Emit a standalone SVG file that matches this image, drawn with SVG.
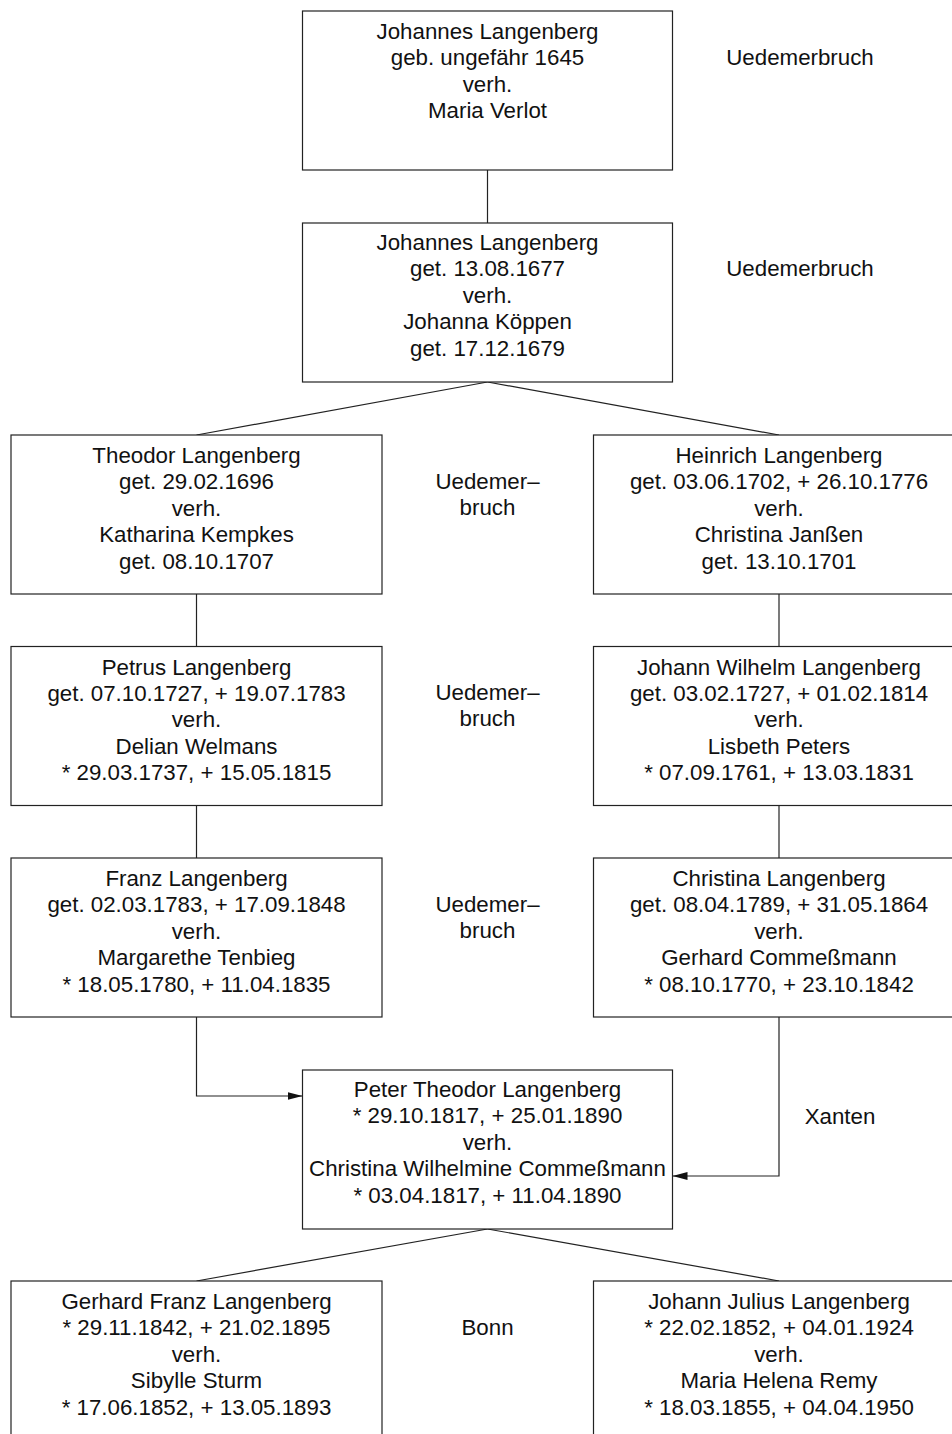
<svg xmlns="http://www.w3.org/2000/svg" width="952" height="1434" viewBox="0 0 952 1434">
<defs>
<style>
.box{fill:#fff;stroke:#222;stroke-width:1.2}
.t{font-family:"Liberation Sans",Arial,Helvetica,sans-serif;font-size:22.3px;fill:#111;text-anchor:middle}
.c{fill:none;stroke:#222;stroke-width:1.2}
</style>
<marker id="ah" markerUnits="userSpaceOnUse" markerWidth="16" markerHeight="10" refX="15" refY="4" orient="auto">
<path d="M0,0 L15,4 L0,8 Z" fill="#111"/>
</marker>
</defs>
<rect width="952" height="1434" fill="#fff"/>
<g id="connectors">
<line class="c" x1="487.5" y1="170" x2="487.5" y2="223"/>
<line class="c" x1="487.5" y1="382" x2="196.5" y2="435"/>
<line class="c" x1="487.5" y1="382" x2="779" y2="435"/>
<line class="c" x1="196.5" y1="594" x2="196.5" y2="646.5"/>
<line class="c" x1="779" y1="594" x2="779" y2="646.5"/>
<line class="c" x1="196.5" y1="805.5" x2="196.5" y2="858"/>
<line class="c" x1="779" y1="805.5" x2="779" y2="858"/>
<path class="c" d="M196.5,1017 L196.5,1096 L302.5,1096" marker-end="url(#ah)"/>
<path class="c" d="M779,1017 L779,1176 L672.5,1176" marker-end="url(#ah)"/>
<line class="c" x1="487.5" y1="1229" x2="196.5" y2="1281"/>
<line class="c" x1="487.5" y1="1229" x2="779" y2="1281"/>
</g>
<g id="n1">
<rect class="box" x="302.5" y="11" width="370" height="159"/>
<text class="t" x="487.5" y="39"><tspan x="487.5">Johannes Langenberg</tspan><tspan x="487.5" dy="26.4">geb. ungefähr 1645</tspan><tspan x="487.5" dy="26.4">verh.</tspan><tspan x="487.5" dy="26.4">Maria Verlot</tspan></text>
</g>
<g id="n2">
<rect class="box" x="302.5" y="223" width="370" height="159"/>
<text class="t" x="487.5" y="250"><tspan x="487.5">Johannes Langenberg</tspan><tspan x="487.5" dy="26.4">get. 13.08.1677</tspan><tspan x="487.5" dy="26.4">verh.</tspan><tspan x="487.5" dy="26.4">Johanna Köppen</tspan><tspan x="487.5" dy="26.4">get. 17.12.1679</tspan></text>
</g>
<g id="n3">
<rect class="box" x="11" y="435" width="371" height="159"/>
<text class="t" x="196.5" y="463"><tspan x="196.5">Theodor Langenberg</tspan><tspan x="196.5" dy="26.4">get. 29.02.1696</tspan><tspan x="196.5" dy="26.4">verh.</tspan><tspan x="196.5" dy="26.4">Katharina Kempkes</tspan><tspan x="196.5" dy="26.4">get. 08.10.1707</tspan></text>
</g>
<g id="n4">
<rect class="box" x="593.5" y="435" width="371" height="159"/>
<text class="t" x="779" y="463"><tspan x="779">Heinrich Langenberg</tspan><tspan x="779" dy="26.4">get. 03.06.1702, + 26.10.1776</tspan><tspan x="779" dy="26.4">verh.</tspan><tspan x="779" dy="26.4">Christina Janßen</tspan><tspan x="779" dy="26.4">get. 13.10.1701</tspan></text>
</g>
<g id="n5">
<rect class="box" x="11" y="646.5" width="371" height="159"/>
<text class="t" x="196.5" y="674.5"><tspan x="196.5">Petrus Langenberg</tspan><tspan x="196.5" dy="26.4">get. 07.10.1727, + 19.07.1783</tspan><tspan x="196.5" dy="26.4">verh.</tspan><tspan x="196.5" dy="26.4">Delian Welmans</tspan><tspan x="196.5" dy="26.4">* 29.03.1737, + 15.05.1815</tspan></text>
</g>
<g id="n6">
<rect class="box" x="593.5" y="646.5" width="371" height="159"/>
<text class="t" x="779" y="674.5"><tspan x="779">Johann Wilhelm Langenberg</tspan><tspan x="779" dy="26.4">get. 03.02.1727, + 01.02.1814</tspan><tspan x="779" dy="26.4">verh.</tspan><tspan x="779" dy="26.4">Lisbeth Peters</tspan><tspan x="779" dy="26.4">* 07.09.1761, + 13.03.1831</tspan></text>
</g>
<g id="n7">
<rect class="box" x="11" y="858" width="371" height="159"/>
<text class="t" x="196.5" y="886"><tspan x="196.5">Franz Langenberg</tspan><tspan x="196.5" dy="26.4">get. 02.03.1783, + 17.09.1848</tspan><tspan x="196.5" dy="26.4">verh.</tspan><tspan x="196.5" dy="26.4">Margarethe Tenbieg</tspan><tspan x="196.5" dy="26.4">* 18.05.1780, + 11.04.1835</tspan></text>
</g>
<g id="n8">
<rect class="box" x="593.5" y="858" width="371" height="159"/>
<text class="t" x="779" y="886"><tspan x="779">Christina Langenberg</tspan><tspan x="779" dy="26.4">get. 08.04.1789, + 31.05.1864</tspan><tspan x="779" dy="26.4">verh.</tspan><tspan x="779" dy="26.4">Gerhard Commeßmann</tspan><tspan x="779" dy="26.4">* 08.10.1770, + 23.10.1842</tspan></text>
</g>
<g id="n9">
<rect class="box" x="302.5" y="1070" width="370" height="159"/>
<text class="t" x="487.5" y="1097"><tspan x="487.5">Peter Theodor Langenberg</tspan><tspan x="487.5" dy="26.4">* 29.10.1817, + 25.01.1890</tspan><tspan x="487.5" dy="26.4">verh.</tspan><tspan x="487.5" dy="26.4">Christina Wilhelmine Commeßmann</tspan><tspan x="487.5" dy="26.4">* 03.04.1817, + 11.04.1890</tspan></text>
</g>
<g id="n10">
<rect class="box" x="11" y="1281" width="371" height="159"/>
<text class="t" x="196.5" y="1309"><tspan x="196.5">Gerhard Franz Langenberg</tspan><tspan x="196.5" dy="26.4">* 29.11.1842, + 21.02.1895</tspan><tspan x="196.5" dy="26.4">verh.</tspan><tspan x="196.5" dy="26.4">Sibylle Sturm</tspan><tspan x="196.5" dy="26.4">* 17.06.1852, + 13.05.1893</tspan></text>
</g>
<g id="n11">
<rect class="box" x="593.5" y="1281" width="371" height="159"/>
<text class="t" x="779" y="1309"><tspan x="779">Johann Julius Langenberg</tspan><tspan x="779" dy="26.4">* 22.02.1852, + 04.01.1924</tspan><tspan x="779" dy="26.4">verh.</tspan><tspan x="779" dy="26.4">Maria Helena Remy</tspan><tspan x="779" dy="26.4">* 18.03.1855, + 04.04.1950</tspan></text>
</g>
<g id="labels">
<text class="t" x="800" y="65">Uedemerbruch</text>
<text class="t" x="800" y="276">Uedemerbruch</text>
<text class="t" x="487.5" y="488.5"><tspan x="487.5">Uedemer–</tspan><tspan x="487.5" dy="26.4">bruch</tspan></text>
<text class="t" x="487.5" y="700"><tspan x="487.5">Uedemer–</tspan><tspan x="487.5" dy="26.4">bruch</tspan></text>
<text class="t" x="487.5" y="911.5"><tspan x="487.5">Uedemer–</tspan><tspan x="487.5" dy="26.4">bruch</tspan></text>
<text class="t" x="840" y="1123.5">Xanten</text>
<text class="t" x="487.5" y="1334.5">Bonn</text>
</g>
</svg>
